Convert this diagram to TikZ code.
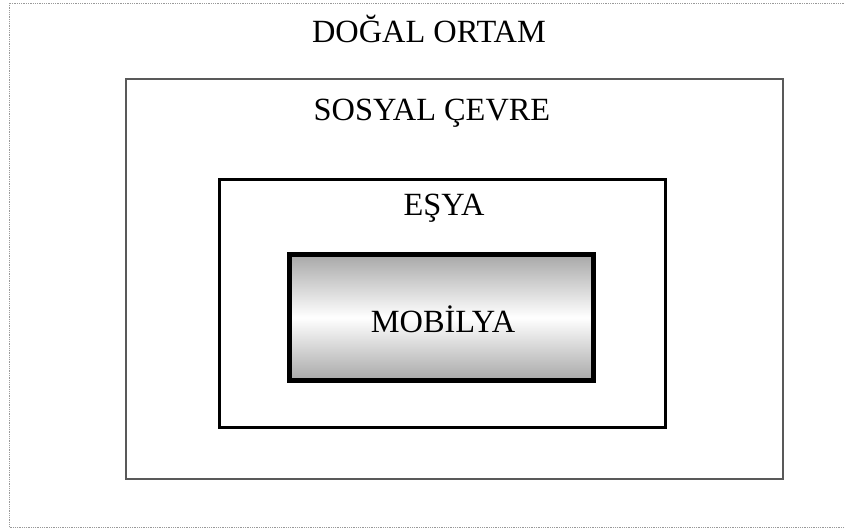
\documentclass[tikz,border=0pt]{standalone}
\usepackage{fontspec}
\setmainfont{Liberation Serif}
\begin{document}
\begin{tikzpicture}[x=1bp,y=-1bp,
  boxlabel/.style={anchor=base,font=\fontsize{32.5}{38}\selectfont,inner sep=0pt},
  framebox/.style={rectangle,inner sep=0pt}]
\useasboundingbox (0,0) rectangle (845,530);
% outer frame (right edge beyond the picture)
\draw[black!40,line width=0.8bp,densely dotted] (846,3) -- (9,3) -- (9,527) -- (846,527);
\node[framebox,draw=black!65,line width=1.6bp,minimum width=657bp,minimum height=400bp] (sosyal) at (454.5,279) {};
\node[framebox,draw=black,line width=3bp,minimum width=446bp,minimum height=247bp] (esya) at (442,303.5) {};
\shade[top color=black!35,bottom color=black!35,middle color=white]
  (287,253) rectangle (595,382);
\node[framebox,draw=black,line width=5bp,minimum width=304bp,minimum height=125bp] (mobilya) at (441,317.5) {};
\node[boxlabel] (t1) at (429,43) {DOĞAL ORTAM};
\node[boxlabel] (t2) at (432,121) {SOSYAL ÇEVRE};
\node[boxlabel] (t3) at (444,216) {EŞYA};
\node[boxlabel] (t4) at (443,333) {MOBİLYA};
\end{tikzpicture}
\end{document}
